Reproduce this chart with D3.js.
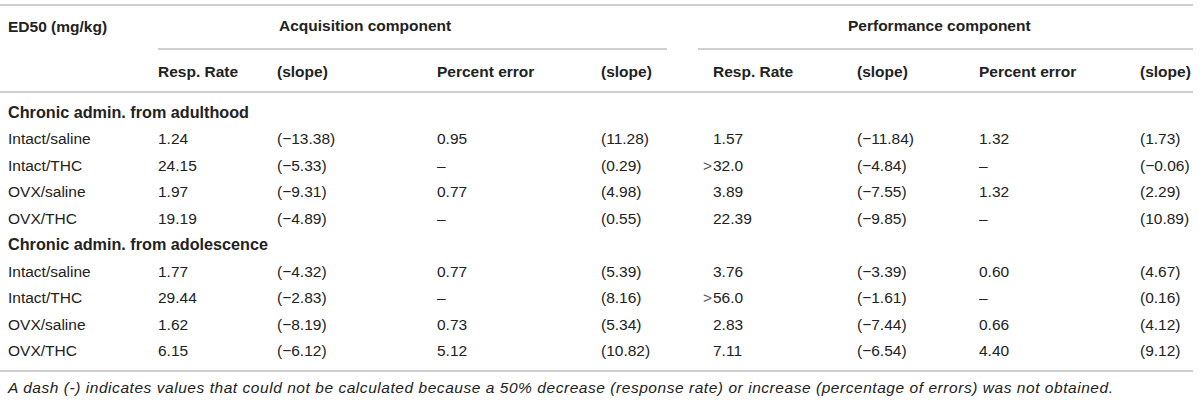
<!DOCTYPE html>
<html lang="en">
<head>
  <meta charset="UTF-8">
  <title>ED50 table</title>
  <style>
    body { margin: 0; padding: 0; background: #fff; }
    svg text { font-family: "Liberation Sans", Arial, sans-serif; fill: #222; }
  </style>
  <script src="https://d3js.org/d3.v7.min.js"></script>
</head>
<body>
<div id="table"></div>
<script>
// table content
const groups = ["Chronic admin. from adulthood", "Chronic admin. from adolescence"];
const treatments = ["Intact/saline", "Intact/THC", "OVX/saline", "OVX/THC"];
const components = ["Acquisition component", "Performance component"];
const columnLabels = ["Resp. Rate", "(slope)", "Percent error", "(slope)",
                      "Resp. Rate", "(slope)", "Percent error", "(slope)"];

// one array per column, 4 adulthood rows then 4 adolescence rows; null = dash
const acqRate        = [1.24, 24.15, 1.97, 19.19, 1.77, 29.44, 1.62, 6.15];
const acqRateSlope   = [-13.38, -5.33, -9.31, -4.89, -4.32, -2.83, -8.19, -6.12];
const acqError       = [0.95, null, 0.77, null, 0.77, null, 0.73, 5.12];
const acqErrorSlope  = [11.28, 0.29, 4.98, 0.55, 5.39, 8.16, 5.34, 10.82];
const perfRate       = [1.57, 32.0, 3.89, 22.39, 3.76, 56.0, 2.83, 7.11];
const perfRateAbove  = [false, true, false, false, false, true, false, false];
const perfRateSlope  = [-11.84, -4.84, -7.55, -9.85, -3.39, -1.61, -7.44, -6.54];
const perfError      = [1.32, null, 1.32, null, 0.60, null, 0.66, 4.40];
const perfErrorSlope = [1.73, -0.06, 2.29, 10.89, 4.67, 0.16, 4.12, 9.12];

const footnote = "A dash (-) indicates values that could not be calculated because a 50% decrease (response rate) or increase (percentage of errors) was not obtained.";

const columns = [acqRate, acqRateSlope, acqError, acqErrorSlope,
                 perfRate, perfRateSlope, perfError, perfErrorSlope];

const width = 1200, height = 403;
const svg = d3.select("#table").append("svg")
  .attr("width", width)
  .attr("height", height);

const f2 = d3.format(".2f"), f1 = d3.format(".1f");
const fontSize = 15.5;
const ruleColor = "#bfbfbf";

// column left edges
const colX = d3.scaleOrdinal()
  .domain(d3.range(8))
  .range([158, 277, 437, 601, 713, 857, 979, 1140]);

// body rows: group header + 4 treatments per group
const rowKeys = [];
groups.forEach((g, gi) => {
  rowKeys.push("g" + gi);
  treatments.forEach((t, ti) => rowKeys.push("r" + (gi * 4 + ti)));
});
const y = d3.scalePoint().domain(rowKeys).range([112, 351]);

function rule(x1, x2, yy) {
  svg.append("line")
    .attr("x1", x1).attr("x2", x2).attr("y1", yy).attr("y2", yy)
    .attr("stroke", ruleColor).attr("stroke-width", 1.5);
}

// horizontal rules
rule(0, 1193, 5);
rule(158, 667, 49);
rule(698, 1193, 49);
rule(0, 1193, 92);
rule(0, 1193, 371);

// header
svg.append("text")
  .attr("x", 8).attr("y", 27).attr("dy", "0.35em")
  .attr("font-size", fontSize).attr("font-weight", "bold")
  .text("ED50 (mg/kg)");

svg.selectAll("text.comp")
  .data(components)
  .join("text")
  .attr("class", "comp")
  .attr("x", (d, i) => i === 0 ? 279 : 848)
  .attr("y", 26).attr("dy", "0.35em")
  .attr("font-size", fontSize).attr("font-weight", "bold")
  .text(d => d);

svg.selectAll("text.colhead")
  .data(columnLabels)
  .join("text")
  .attr("class", "colhead")
  .attr("x", (d, i) => colX(i))
  .attr("y", 72).attr("dy", "0.35em")
  .attr("font-size", fontSize).attr("font-weight", "bold")
  .text(d => d);

// group rows
svg.selectAll("text.group")
  .data(groups)
  .join("text")
  .attr("class", "group")
  .attr("x", 8)
  .attr("y", (d, i) => y("g" + i)).attr("dy", "0.35em")
  .attr("font-size", 16.2).attr("font-weight", "bold")
  .text(d => d);

// treatment labels
const rowIdx = d3.range(8);
svg.selectAll("text.label")
  .data(rowIdx)
  .join("text")
  .attr("class", "label")
  .attr("x", 8)
  .attr("y", r => y("r" + r)).attr("dy", "0.35em")
  .attr("font-size", fontSize)
  .text(r => treatments[r % 4]);

// cells
function cellText(ci, r) {
  const v = columns[ci][r];
  if (v === null) return "\u2013";
  if (ci === 4 && perfRateAbove[r]) return f1(v);
  const s = f2(v);
  return (ci % 2 === 1) ? "(" + s + ")" : s;
}

const cells = [];
columns.forEach((col, ci) => rowIdx.forEach(r => cells.push({ ci, r })));

svg.selectAll("text.cell")
  .data(cells)
  .join("text")
  .attr("class", "cell")
  .attr("x", d => colX(d.ci))
  .attr("y", d => y("r" + d.r)).attr("dy", "0.35em")
  .attr("font-size", fontSize)
  .text(d => cellText(d.ci, d.r));

// ">" qualifiers hang left of the value
svg.selectAll("text.gt")
  .data(rowIdx.filter(r => perfRateAbove[r]))
  .join("text")
  .attr("class", "gt")
  .attr("x", colX(4) - 1)
  .attr("y", r => y("r" + r)).attr("dy", "0.35em")
  .attr("text-anchor", "end")
  .attr("font-size", fontSize)
  .style("fill", "#555")
  .text(">");

// footnote
svg.append("text")
  .attr("x", 8).attr("y", 388).attr("dy", "0.35em")
  .attr("font-size", 15.5).attr("font-style", "italic")
  .attr("textLength", 1105).attr("lengthAdjust", "spacing")
  .text(footnote);
</script>
</body>
</html>
